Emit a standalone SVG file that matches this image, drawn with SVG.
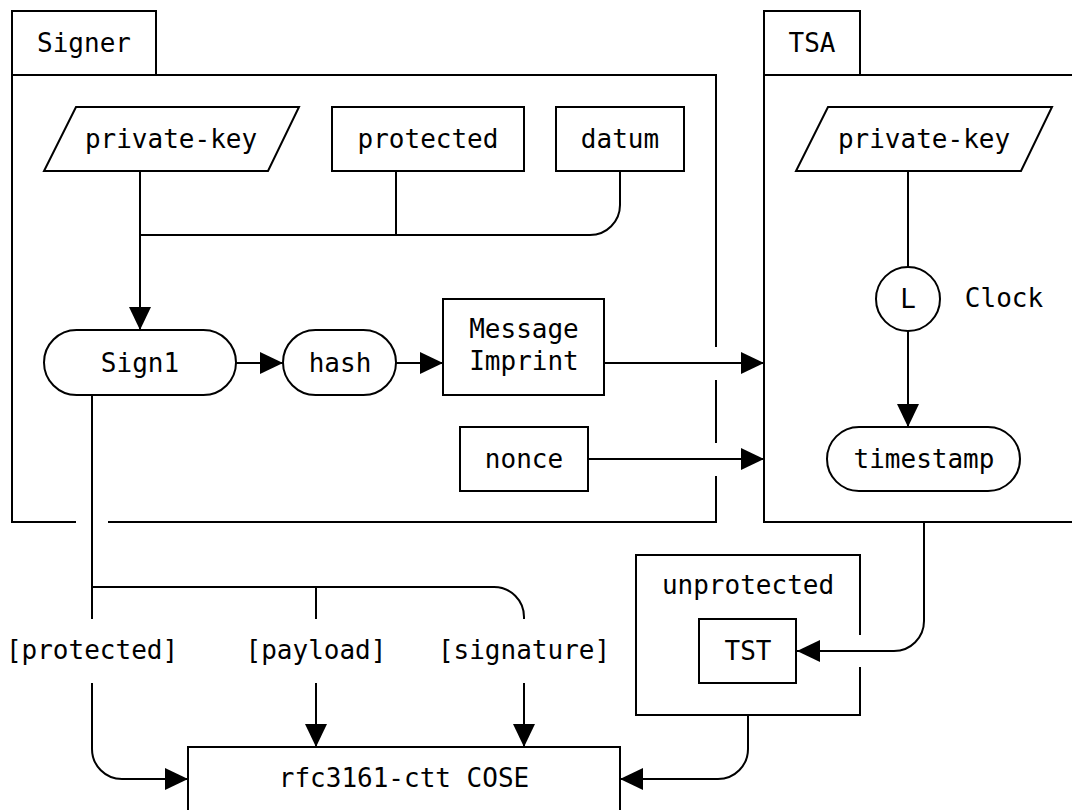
<svg xmlns="http://www.w3.org/2000/svg" width="1072" height="810" viewBox="0 0 1072 810">
<style>
.s{fill:#fff;stroke:#000;stroke-width:2}
.b{fill:none;stroke:#000;stroke-width:2}
.c{fill:none;stroke:#000;stroke-width:2}
text{font-family:"DejaVu Sans Mono","Liberation Mono",monospace;font-size:26px;fill:#000;text-anchor:middle}
</style>
<defs>
<marker id="ah" viewBox="0 0 23 22" refX="23" refY="11" markerWidth="23" markerHeight="22" orient="auto" markerUnits="userSpaceOnUse"><path d="M0,0 L23,11 L0,22 z" fill="#000"/></marker>
</defs>
<rect width="1072" height="810" fill="#fff"/>
<g id="signer">
<rect class="s" x="12" y="11" width="144" height="64"/>
<path class="b" d="M12,75 H716 V347 M716,380 V443 M716,476 V522 H108 M76,522 H12 V75"/>
<text x="84" y="52">Signer</text>
</g>
<g id="tsa">
<rect class="s" x="764" y="11" width="96" height="64"/>
<path class="b" d="M1080,75 H764 V522 H1080"/>
<text x="812" y="52">TSA</text>
</g>
<g id="unprotected">
<path class="b" d="M860,635 V555 H636 V715 H860 V667"/>
<text x="748" y="594">unprotected</text>
</g>
<g id="connectors">
<path class="c" d="M140,171 V330" marker-end="url(#ah)"/>
<path class="c" d="M396,171 V235"/>
<path class="c" d="M620,171 V205 A30,30 0 0 1 590,235 H140"/>
<path class="c" d="M236,363 H283" marker-end="url(#ah)"/>
<path class="c" d="M396,363 H443" marker-end="url(#ah)"/>
<path class="c" d="M604,363 H764" marker-end="url(#ah)"/>
<path class="c" d="M588,459 H764" marker-end="url(#ah)"/>
<path class="c" d="M908,171 V267"/>
<path class="c" d="M908,331 V427" marker-end="url(#ah)"/>
<path class="c" d="M924,522 V621 A30,30 0 0 1 894,651 H797" marker-end="url(#ah)"/>
<path class="c" d="M748,715 V749 A30,30 0 0 1 718,779 H620" marker-end="url(#ah)"/>
<path class="c" d="M92,395 V619"/>
<path class="c" d="M92,587 H494 A30,30 0 0 1 524,617 V619"/>
<path class="c" d="M316,587 V619"/>
<path class="c" d="M92,683 V749 A30,30 0 0 0 122,779 H188" marker-end="url(#ah)"/>
<path class="c" d="M316,683 V747" marker-end="url(#ah)"/>
<path class="c" d="M524,683 V747" marker-end="url(#ah)"/>
</g>
<g id="signer-private-key">
<polygon class="s" points="76,107 299,107 268,171 44,171"/>
<text x="171" y="148">private-key</text>
</g>
<g id="protected">
<rect class="s" x="332" y="107" width="192" height="64"/>
<text x="428" y="148">protected</text>
</g>
<g id="datum">
<rect class="s" x="556" y="107" width="128" height="64"/>
<text x="620" y="148">datum</text>
</g>
<g id="sign1">
<rect class="s" x="44" y="330" width="192" height="65" rx="32.5"/>
<text x="140" y="372">Sign1</text>
</g>
<g id="hash">
<rect class="s" x="283" y="330" width="113" height="65" rx="32.5"/>
<text x="340" y="372">hash</text>
</g>
<g id="message-imprint">
<rect class="s" x="443" y="299" width="161" height="96"/>
<text x="524" y="338">Message</text>
<text x="524" y="370">Imprint</text>
</g>
<g id="nonce">
<rect class="s" x="460" y="427" width="128" height="64"/>
<text x="524" y="468">nonce</text>
</g>
<g id="tsa-private-key">
<polygon class="s" points="828,107 1052,107 1021,171 796,171"/>
<text x="924" y="148">private-key</text>
</g>
<g id="clock">
<circle class="s" cx="908" cy="299" r="32"/>
<text x="908" y="308">L</text>
<text x="1004" y="307">Clock</text>
</g>
<g id="timestamp">
<rect class="s" x="827" y="427" width="193" height="64" rx="32"/>
<text x="924" y="468">timestamp</text>
</g>
<g id="tst">
<rect class="s" x="699" y="619" width="97" height="64"/>
<text x="748" y="660">TST</text>
</g>
<g id="labels">
<text x="92" y="659">[protected]</text>
<text x="316" y="659">[payload]</text>
<text x="524" y="659">[signature]</text>
</g>
<g id="cose">
<rect class="s" x="188" y="747" width="432" height="80"/>
<text x="404" y="787">rfc3161-ctt COSE</text>
</g>
</svg>
